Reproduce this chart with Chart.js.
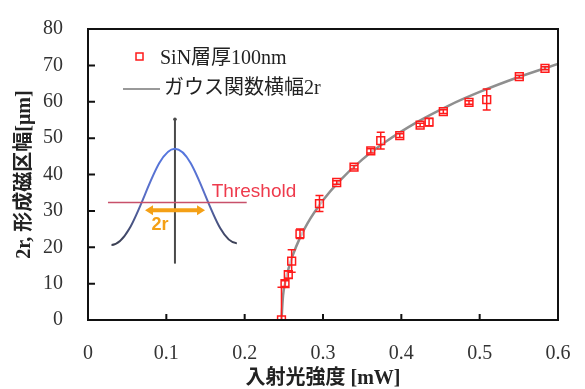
<!DOCTYPE html>
<html>
<head>
<meta charset="utf-8">
<script src="https://cdn.jsdelivr.net/npm/chart.js@4.4.1/dist/chart.umd.min.js"></script>
<style>
  html, body { margin: 0; padding: 0; background: #fff; }
</style>
</head>
<body>
<canvas id="domainChart" width="585" height="389"></canvas>
<script>
// measured points (incident power [mW] vs. domain width 2r [um])
const power   = [0.247, 0.2515, 0.2557, 0.260, 0.2706, 0.2955, 0.3175, 0.3396, 0.361, 0.3737, 0.398, 0.424, 0.4354, 0.4536, 0.4864, 0.509, 0.5506, 0.5834];
const width2r = [0, 10, 12.5, 16.2, 23.7, 32, 37.8, 42, 46.5, 49.3, 50.7, 53.6, 54.4, 57.3, 59.8, 60.6, 66.9, 69.2];
const widthErr = [9, 0.8, 1, 3.1, 1.3, 2.2, 0.5, 0.5, 0.6, 2.3, 0.5, 0.5, 1, 0.5, 0.5, 2.9, 0.4, 0.4];

// gaussian width curve
const fitPower = [0.247, 0.249, 0.252, 0.256, 0.262, 0.27, 0.28, 0.30, 0.32, 0.35, 0.38, 0.42, 0.46, 0.50, 0.55, 0.60];
const fitWidth = [0, 6.7, 10.6, 14.1, 18.1, 22.3, 26.5, 32.9, 38.0, 44.1, 49.0, 54.4, 58.9, 62.7, 66.8, 70.4];

const xTickLabels = ['0', '0.1', '0.2', '0.3', '0.4', '0.5', '0.6'];
const yTickLabels = ['0', '10', '20', '30', '40', '50', '60', '70', '80'];

const legendLabels = ['SiN層厚100nm', 'ガウス関数横幅2r'];

const serif = '"Liberation Serif", "Noto Sans CJK JP", serif';
const sans = '"Liberation Sans", Arial, sans-serif';

const boxPlugin = {
  id: 'boxPlugin',
  beforeDatasetsDraw(chart) {
    // schematic inset: gaussian, threshold, 2r
    const ctx = chart.ctx;
    const x = chart.scales.x, y = chart.scales.y;
    const X = v => x.getPixelForValue(v), Y = v => y.getPixelForValue(v);
    ctx.save();

    // vertical axis of inset
    ctx.strokeStyle = '#4a4a4a';
    ctx.lineWidth = 2;
    ctx.beginPath();
    ctx.moveTo(X(0.111), Y(15.5));
    ctx.lineTo(X(0.111), Y(55.2));
    ctx.stroke();
    ctx.fillStyle = '#4a4a4a';
    ctx.beginPath();
    ctx.arc(X(0.111), Y(55.2), 1.8, 0, Math.PI * 2);
    ctx.fill();

    // bell curve
    const grad = ctx.createLinearGradient(0, Y(47), 0, Y(20));
    grad.addColorStop(0, '#5577e0');
    grad.addColorStop(0.45, '#5a6fc8');
    grad.addColorStop(1, '#3a3d4c');
    ctx.strokeStyle = grad;
    ctx.lineWidth = 2;
    ctx.beginPath();
    ctx.moveTo(X(0.030), Y(20.6));
    ctx.bezierCurveTo(X(0.062), Y(20.8), X(0.082), Y(47.1), X(0.111), Y(47.1));
    ctx.bezierCurveTo(X(0.140), Y(47.1), X(0.160), Y(21.0), X(0.190), Y(21.1));
    ctx.stroke();

    // threshold line
    ctx.strokeStyle = '#c8506a';
    ctx.lineWidth = 1.5;
    ctx.beginPath();
    ctx.moveTo(X(0.0255), Y(32.3));
    ctx.lineTo(X(0.2026), Y(32.3));
    ctx.stroke();

    ctx.fillStyle = '#ee3a4c';
    ctx.font = '19px ' + sans;
    ctx.textBaseline = 'middle';
    ctx.textAlign = 'left';
    ctx.fillText('Threshold', X(0.158), Y(35.2));

    // orange double arrow
    const ax1 = X(0.0728), ax2 = X(0.1494), ay = Y(30.2);
    ctx.strokeStyle = '#f4a016';
    ctx.fillStyle = '#f4a016';
    ctx.lineWidth = 4;
    ctx.beginPath();
    ctx.moveTo(ax1 + 5, ay);
    ctx.lineTo(ax2 - 5, ay);
    ctx.stroke();
    ctx.beginPath();
    ctx.moveTo(ax1, ay); ctx.lineTo(ax1 + 8, ay - 5); ctx.lineTo(ax1 + 8, ay + 5); ctx.closePath();
    ctx.moveTo(ax2, ay); ctx.lineTo(ax2 - 8, ay - 5); ctx.lineTo(ax2 - 8, ay + 5); ctx.closePath();
    ctx.fill();
    ctx.font = 'bold 18px ' + sans;
    ctx.textAlign = 'center';
    ctx.fillText('2r', X(0.092), Y(26.1));
    ctx.restore();
  },
  afterDatasetsDraw(chart) {
    // error bars
    const ctx = chart.ctx, a = chart.chartArea;
    const x = chart.scales.x, y = chart.scales.y;
    ctx.save();
    ctx.beginPath();
    ctx.rect(a.left, a.top, a.right - a.left, a.bottom - a.top);
    ctx.clip();
    ctx.strokeStyle = '#ff1a1a';
    ctx.lineWidth = 1.5;
    power.forEach((p, i) => {
      const px = x.getPixelForValue(p);
      const top = y.getPixelForValue(width2r[i] + widthErr[i]);
      const bot = y.getPixelForValue(width2r[i] - widthErr[i]);
      ctx.beginPath();
      ctx.moveTo(px, top); ctx.lineTo(px, bot);
      ctx.moveTo(px - 4, top); ctx.lineTo(px + 4, top);
      ctx.moveTo(px - 4, bot); ctx.lineTo(px + 4, bot);
      ctx.stroke();
    });
    ctx.restore();
  },
  afterDraw(chart) {
    const ctx = chart.ctx, a = chart.chartArea;
    const x = chart.scales.x, y = chart.scales.y;
    ctx.save();
    // frame
    ctx.strokeStyle = '#111';
    ctx.lineWidth = 2;
    ctx.strokeRect(a.left, a.top, a.right - a.left, a.bottom - a.top);
    // inner tick marks
    ctx.beginPath();
    x.ticks.forEach(t => {
      const px = x.getPixelForValue(t.value);
      ctx.moveTo(px, a.bottom); ctx.lineTo(px, a.bottom - 6);
    });
    y.ticks.forEach(t => {
      const py = y.getPixelForValue(t.value);
      ctx.moveTo(a.left, py); ctx.lineTo(a.left + 7, py);
    });
    ctx.stroke();

    // legend
    ctx.font = '20px ' + serif;
    ctx.textBaseline = 'middle';
    ctx.textAlign = 'left';
    ctx.strokeStyle = '#ff1a1a';
    ctx.lineWidth = 1.5;
    ctx.fillStyle = 'rgba(255,255,255,0.6)';
    ctx.fillRect(a.left + 48, a.top + 24, 7, 7);
    ctx.strokeRect(a.left + 48, a.top + 24, 7, 7);
    ctx.fillStyle = '#222';
    ctx.fillText(legendLabels[0], a.left + 72, a.top + 30);
    ctx.strokeStyle = '#777';
    ctx.lineWidth = 1.5;
    ctx.beginPath();
    ctx.moveTo(a.left + 35, a.top + 60);
    ctx.lineTo(a.left + 72, a.top + 60);
    ctx.stroke();
    ctx.fillText(legendLabels[1], a.left + 76, a.top + 60);
    ctx.restore();
  }
};

const ctx = document.getElementById('domainChart').getContext('2d');
const domainChart = new Chart(ctx, {
  type: 'scatter',
  data: {
    datasets: [{
      label: legendLabels[0],
      data: power.map((p, i) => ({ x: p, y: width2r[i] })),
      pointStyle: 'rect',
      pointRadius: 5.5,
      borderColor: '#ff1a1a',
      borderWidth: 1.5,
      backgroundColor: 'rgba(255,255,255,0.5)'
    }, {
      label: legendLabels[1],
      data: fitPower.map((p, i) => ({ x: p, y: fitWidth[i] })),
      showLine: true,
      pointRadius: 0,
      borderColor: '#8f8f8f',
      borderWidth: 2.5,
      tension: 0.3,
      cubicInterpolationMode: 'monotone'
    }]
  },
  options: {
    responsive: false,
    animation: false,
    layout: { padding: { left: 9, right: 27, top: 20, bottom: 0 } },
    plugins: {
      legend: { display: false },
      tooltip: { enabled: false }
    },
    scales: {
      x: {
        type: 'linear',
        min: 0, max: 0.6,
        grid: { display: false },
        border: { display: false },
        afterFit: s => { s.height = 69; },
        ticks: {
          stepSize: 0.1,
          padding: 14,
          color: '#333',
          font: { family: serif, size: 20 },
          callback: (v, i) => xTickLabels[i]
        },
        title: {
          display: true,
          text: '入射光強度 [mW]',
          color: '#222',
          padding: { top: 0, bottom: 0 },
          font: { family: serif, size: 20, weight: 'bold', lineHeight: 1 }
        }
      },
      y: {
        min: 0, max: 80,
        grid: { display: false },
        border: { display: false },
        afterFit: s => { s.width = 79; },
        ticks: {
          stepSize: 10,
          padding: 17,
          color: '#333',
          font: { family: serif, size: 20 },
          callback: (v, i) => yTickLabels[i]
        },
        title: {
          display: true,
          text: '2r, 形成磁区幅[μm]',
          color: '#222',
          padding: { top: 4, bottom: 0 },
          font: { family: serif, size: 20, weight: 'bold' }
        }
      }
    }
  },
  plugins: [boxPlugin]
});
</script>
</body>
</html>
